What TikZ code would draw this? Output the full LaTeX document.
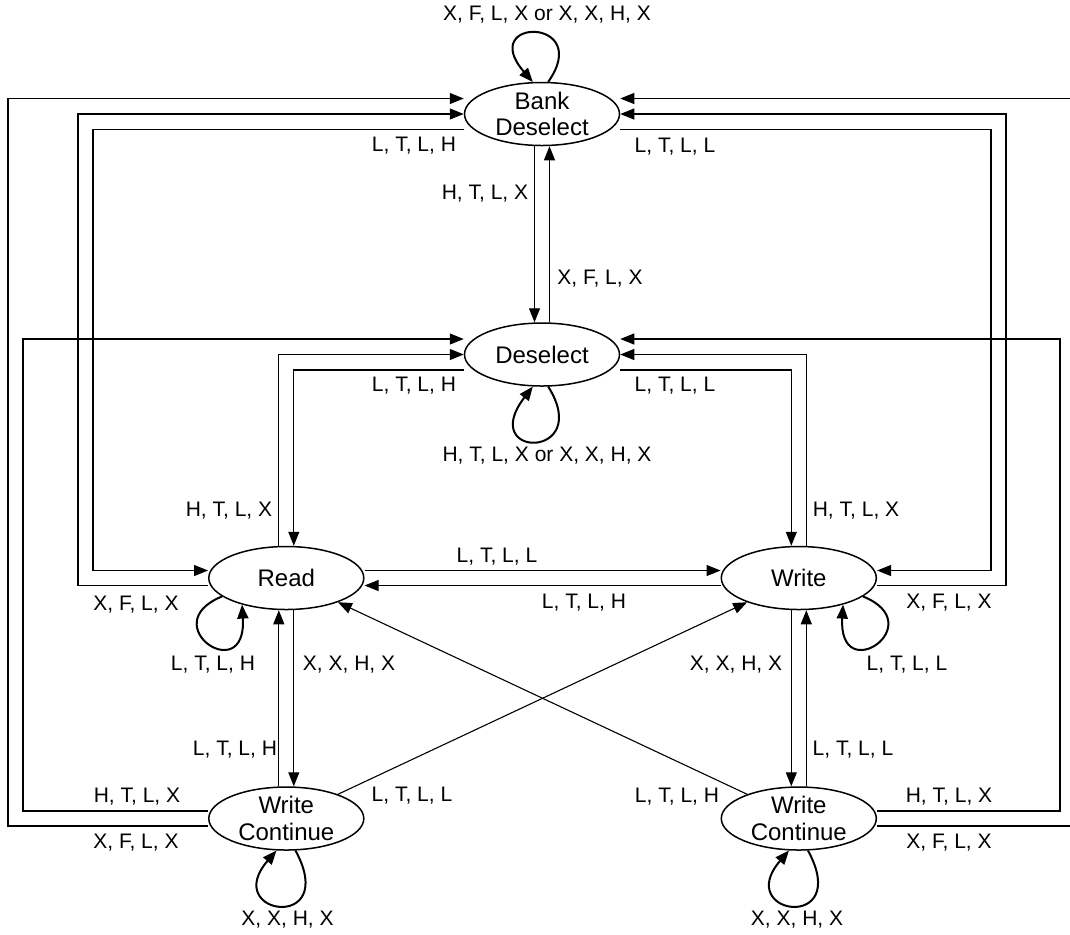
\documentclass[tikz,border=0pt]{standalone}
\usepackage{fontspec}
\setmainfont{Liberation Sans}
\usetikzlibrary{positioning,shapes.geometric,arrows.meta}

\begin{document}
\begin{tikzpicture}[x=0.5pt,y=-0.5pt,node distance=88pt,line width=0.55pt,
    >={Triangle[length=7pt,width=5.5pt]},
    state/.style={ellipse,draw,line width=0.75pt,minimum width=77.5pt,minimum height=31.5pt,
        inner sep=0pt,align=center,font=\fontsize{12}{13.2}\selectfont},
    lbl/.style={anchor=base,inner sep=0pt,font=\fontsize{10.5}{12}\selectfont},
    loopline/.style={line width=1pt}]
    \useasboundingbox (0,0) rectangle (1070,934);
    \clip (0,0) rectangle (1070,934);

    \node[state] (BD) at (542,114) {Bank\\Deselect};
    \node[state,below=of BD] (DS) {Deselect};
    \node[state] (RD) at (286.3,578) {Read};
    \node[state,right=178pt of RD] (WR) {Write};
    \node[state,below=of RD] (WCL) {Write\\Continue};
    \node[state,below=of WR] (WCR) {Write\\Continue};

    \draw[->] ([yshift=-3.75pt]WCL.west) -| (8,500) |- ([yshift=7.75pt]BD.west);
    \draw[->] ([yshift=-3.75pt]RD.west) -| (78,400) |- (BD.west);
    \draw[->] ([yshift=-7.75pt]BD.west) -| (93,400) |- ([yshift=3.75pt]RD.west);
    \draw[->] ([yshift=-3.75pt]WCR.east) -| (1076,500) |- ([yshift=7.75pt]BD.east);
    \draw[->] ([yshift=-3.75pt]WR.east) -| (1006,400) |- (BD.east);
    \draw[->] ([yshift=-7.75pt]BD.east) -| (991,400) |- ([yshift=3.75pt]WR.east);
    \draw[->] ([xshift=-3.75pt]BD.south) -- ([xshift=-3.75pt]DS.north);
    \draw[->] ([xshift=3.75pt]DS.north) -- ([xshift=3.75pt]BD.south);

    \draw[->] ([yshift=3.75pt]WCL.west) -| (23,600) |- ([yshift=7.75pt]DS.west);
    \draw[->] ([xshift=-3.75pt]RD.north) |- (DS.west);
    \draw[->] ([yshift=-7.75pt]DS.west) -| ([xshift=3.75pt]RD.north);
    \draw[->] ([yshift=3.75pt]WCR.east) -| (1060,600) |- ([yshift=7.75pt]DS.east);
    \draw[->] ([xshift=3.75pt]WR.north) |- (DS.east);
    \draw[->] ([yshift=-7.75pt]DS.east) -| ([xshift=-3.75pt]WR.north);

    \draw[->] ([yshift=3.75pt]RD.east) -- ([yshift=3.75pt]WR.west);
    \draw[->] ([yshift=-3.75pt]WR.west) -- ([yshift=-3.75pt]RD.east);
    \draw[->] ([xshift=-3.75pt]WCL.north) -- ([xshift=-3.75pt]RD.south);
    \draw[->] ([xshift=3.75pt]RD.south) -- ([xshift=3.75pt]WCL.north);
    \draw[->] ([xshift=-3.75pt]WR.south) -- ([xshift=-3.75pt]WCR.north);
    \draw[->] ([xshift=3.75pt]WCR.north) -- ([xshift=3.75pt]WR.south);
    \foreach \u / \v in {WCL/WR,WCR/RD}
        \draw[->] (\u) -- (\v);

    \draw[loopline,->] (BD.79) .. controls +(45.7,-65.3) and +(-56.3,-64.7) .. (BD.106);
    \draw[loopline,->] (DS.-79) .. controls +(45.7,73) and +(-56.3,73) .. (DS.-106);
    \draw[loopline,->] (RD.196.5) .. controls +(-69,28) and +(5,84) .. (RD.211);
    \draw[loopline,->] (WR.-16.5) .. controls +(69,28) and +(-5,84) .. (WR.-31);
    \foreach \n in {WCL,WCR}
        \draw[loopline,->] (\n.-74.5) .. controls +(44.5,82) and +(-56.3,65) .. (\n.-107);

    \node[lbl] (lBD) at (547,20.7) {X, F, L, X or X, X, H, X};
    \node[lbl] (lBDRD) at (414,151.7) {L, T, L, H};
    \node[lbl] (lBDDS) at (485,199.3) {H, T, L, X};
    \node[lbl] (lBDWR) at (675,152.5) {L, T, L, L};
    \node[lbl] (lDSBD) at (600,284.3) {X, F, L, X};
    \node[lbl] (lDSRD) at (414,391.7) {L, T, L, H};
    \node[lbl] (lDS) at (547,461.7) {H, T, L, X or X, X, H, X};
    \node[lbl] (lDSWR) at (675,391.7) {L, T, L, L};
    \node[lbl] (lRDDS) at (229,516.7) {H, T, L, X};
    \node[lbl] (lWRDS) at (856,516.7) {H, T, L, X};
    \node[lbl] (lRDWR) at (497,562.3) {L, T, L, L};
    \node[lbl] (lRDBD) at (136,610) {X, F, L, X};
    \node[lbl] (lWRRD) at (584,608.3) {L, T, L, H};
    \node[lbl] (lWRBD) at (949,608.3) {X, F, L, X};
    \node[lbl] (lRD) at (213,670) {L, T, L, H};
    \node[lbl] (lRDWCL) at (349,670) {X, X, H, X};
    \node[lbl] (lWRWCR) at (736,670) {X, X, H, X};
    \node[lbl] (lWR) at (907,670) {L, T, L, L};
    \node[lbl] (lWCLRD) at (235,755.7) {L, T, L, H};
    \node[lbl] (lWCRWR) at (853,755.7) {L, T, L, L};
    \node[lbl] (lWCLDS) at (137,802.7) {H, T, L, X};
    \node[lbl] (lWCLWR) at (412,801) {L, T, L, L};
    \node[lbl] (lWCRRD) at (677,802) {L, T, L, H};
    \node[lbl] (lWCRDS) at (949,802) {H, T, L, X};
    \node[lbl] (lWCLBD) at (136,848.3) {X, F, L, X};
    \node[lbl] (lWCRBD) at (949,848.3) {X, F, L, X};
    \node[lbl] (lWCL) at (287.5,925) {X, X, H, X};
    \node[lbl] (lWCR) at (797,925) {X, X, H, X};
\end{tikzpicture}
\end{document}
